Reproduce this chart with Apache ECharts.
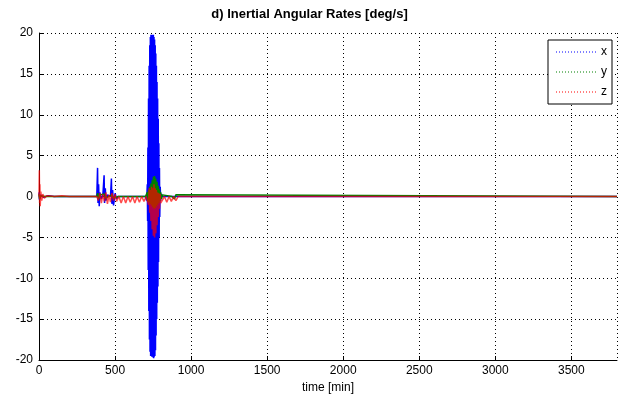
<!DOCTYPE html>
<html>
<head>
  <meta charset="utf-8"/>
  <title>d) Inertial Angular Rates</title>
  <script src="https://cdn.jsdelivr.net/npm/echarts@6/dist/echarts.min.js"></script>
  <style>
    html, body { margin: 0; padding: 0; background: #fff; }
    #main { width: 619px; height: 400px; }
  </style>
</head>
<body>
<div id="main"></div>
<script>
// time [min], rate [deg/s]
var xRate = [
  [0, 0.5], [3, -0.4], [10, 0.2], [30, -0.1], [60, 0.1], [100, 0], [380, 0],
  [385, 3.5], [388, -0.8], [392, 1.5], [396, -1.2], [400, 0.5], [410, -0.3], [420, 0.2],
  [428, 2.6], [431, -0.8], [436, 1.0], [440, -0.5], [450, 0.2], [470, 0],
  [476, 2.2], [479, -0.9], [484, 0.8], [490, -1.1], [500, 0.4], [510, -0.3], [520, 0],
  [700, 0], [708, -0.5], [712, 1.5], [714, -3],
  [716, 6], [718, -9], [720, 12], [722, -14], [724, 16], [726, -17.5], [728, 18.5], [730, -19],
  [732, 19.5], [734, -19.5], [736, 19.8], [738, -19.5], [740, 19.8], [742, -19.6], [744, 19.8],
  [746, -19.5], [748, 19.8], [750, -19.7], [752, 19.8], [754, -19.8], [756, 19.5], [758, -19.6],
  [760, 19.2], [762, -19.5], [764, 18.5], [766, -18.8], [768, 17.5], [770, -17], [772, 16],
  [774, -15], [776, 14], [778, -13], [780, 12], [782, -11], [784, 9.5], [786, -8], [788, 6.5],
  [790, -5], [792, 3.5], [794, -2.5], [797, 1.2], [800, -0.5], [805, 0.3], [812, 0], [3800, 0]
];
var yRate = [
  [0, 0.3], [4, -0.3], [12, 0.1], [40, 0], [380, 0], [386, 0.4], [392, -0.3], [400, 0.2],
  [410, 0], [430, 0.3], [436, -0.2], [445, 0], [480, 0.2], [490, -0.2], [520, 0], [700, 0],
  [712, 0.5], [716, -0.6], [720, 0.8], [724, -0.7], [728, 1.2], [732, -0.9], [736, 1.6],
  [740, -1.1], [744, 2.0], [748, -1.3], [752, 2.4], [756, -1.5], [760, 2.5], [764, -1.4],
  [768, 2.2], [772, -1.2], [776, 1.8], [780, -1.0], [784, 1.3], [788, -0.8], [792, 0.9],
  [796, -0.5], [800, 0.5], [806, -0.3], [812, 0.2], [818, 0], [875, 0], [880, 0.2],
  [890, -0.3], [900, 0.2], [910, 0], [3800, 0]
];
var zRate = [
  [0, 0], [2, 3.2], [4, -0.8], [6, 1.5], [8, -1.2], [12, 0.6], [18, -0.5], [25, 0.3],
  [35, -0.2], [50, 0.1], [80, 0.05], [100, 0], [150, 0.1], [200, 0], [380, 0],
  [390, -0.5], [400, 0.4], [410, -0.8], [420, 0.3], [430, -0.6], [440, 0.5], [450, -0.9],
  [460, 0.2], [470, -0.7], [480, 0.4], [490, -0.5], [500, 0.3], [510, -0.6], [525, 0],
  [540, -0.8], [555, 0], [570, -0.8], [585, 0], [600, -0.7], [615, 0], [630, -0.8], [645, 0],
  [660, -0.7], [675, 0], [690, -0.6], [705, 0],
  [720, -1], [724, 1], [728, -2], [732, 0.8], [736, -3], [740, 1.2], [744, -4], [748, 1],
  [752, -4.8], [756, 1.5], [760, -5], [764, 1], [768, -4.5], [772, 0.8], [776, -3.5],
  [780, 0.5], [784, -2.5], [788, 0.4], [792, -1.5], [796, 0.3], [800, -0.8],
  [810, -0.8], [825, 0], [840, -0.7], [855, 0], [870, -0.6], [885, 0], [900, -0.5], [915, 0],
  [3800, 0]
];
var seriesNames = ['x', 'y', 'z'];
var seriesColors = ['#0000ff', '#008000', '#ff0000'];
var xTicks = [0, 3800, 500];   // min, max, step
var yTicks = [-20, 20, 5];

var chart = echarts.init(document.getElementById('main'));
var font = 'Liberation Sans, Arial, sans-serif';

// dotted legend line, like matlab's ':' style
var dots = '';
for (var k = 0; k < 40; k += 3) { dots += 'M' + k + ' 0h1v1h-1z '; }

var option = {
  animation: false,
  backgroundColor: '#fff',
  title: {
    text: 'd) Inertial Angular Rates [deg/s]',
    left: 'center',
    top: 3,
    textStyle: { fontFamily: font, fontSize: 13, fontWeight: 'bold', color: '#000' }
  },
  legend: {
    orient: 'vertical',
    right: 7,
    top: 40,
    icon: 'path://' + dots,
    itemWidth: 40,
    itemHeight: 1,
    itemGap: 8,
    padding: [6, 5, 6, 8],
    borderColor: '#000',
    borderWidth: 1,
    backgroundColor: '#fff',
    textStyle: { fontFamily: font, fontSize: 12, color: '#000', lineHeight: 12 },
    data: seriesNames
  },
  grid: { left: 39, right: 2, top: 33, bottom: 40 },
  xAxis: {
    type: 'value',
    min: xTicks[0], max: xTicks[1], interval: xTicks[2],
    name: 'time [min]',
    nameLocation: 'middle',
    nameGap: 21,
    nameTextStyle: { fontFamily: font, fontSize: 12, color: '#000' },
    axisLine: { onZero: false, lineStyle: { color: '#000', width: 1 } },
    axisTick: { inside: true, length: 4, lineStyle: { color: '#000' } },
    axisLabel: {
      fontFamily: font, fontSize: 12, color: '#000', margin: 5, showMaxLabel: false,
      formatter: function (v) { return String(v); }
    },
    splitLine: { show: true, lineStyle: { color: '#000', type: [1, 3], width: 1 } }
  },
  yAxis: {
    type: 'value',
    min: yTicks[0], max: yTicks[1], interval: yTicks[2],
    axisLine: { show: true, lineStyle: { color: '#000', width: 1 } },
    axisTick: { show: true, inside: true, length: 4, lineStyle: { color: '#000' } },
    axisLabel: { fontFamily: font, fontSize: 12, color: '#000', margin: 6 },
    splitLine: { show: true, lineStyle: { color: '#000', type: [1, 3], width: 1 } }
  },
  series: [xRate, yRate, zRate].map(function (d, i) {
    return {
      name: seriesNames[i],
      type: 'line',
      data: d,
      symbol: 'none',
      color: seriesColors[i],
      lineStyle: { width: 1.5, color: seriesColors[i], opacity: i === 2 ? 0.7 : 1 },
      clip: true
    };
  })
};
chart.setOption(option);
</script>
</body>
</html>
